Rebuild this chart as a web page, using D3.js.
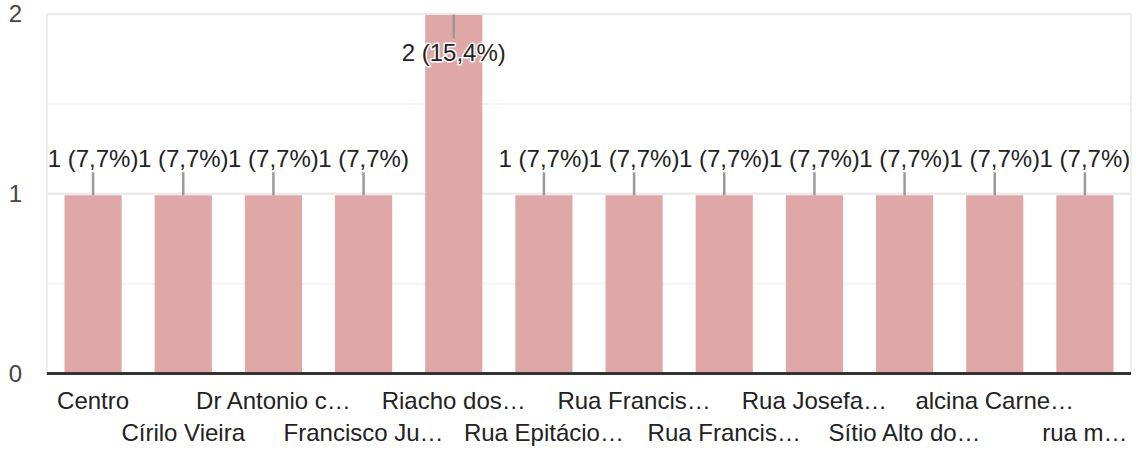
<!DOCTYPE html>
<html>
<head>
<meta charset="utf-8">
<script src="https://cdn.jsdelivr.net/npm/d3@7"></script>
<style>
  html, body { margin: 0; padding: 0; background: #fff; }
  svg { display: block; font-family: Arial, "Liberation Sans", sans-serif; }
</style>
</head>
<body>
<svg id="chart" width="1139" height="450"></svg>
<script>
const categories = ["Centro", "Círilo Vieira", "Dr Antonio c…", "Francisco Ju…", "Riacho dos…", "Rua Epitácio…", "Rua Francis…", "Rua Francis…", "Rua Josefa…", "Sítio Alto do…", "alcina Carne…", "rua m…"];
const values = [1, 1, 1, 1, 2, 1, 1, 1, 1, 1, 1, 1];
const valueLabels = ["1 (7,7%)", "1 (7,7%)", "1 (7,7%)", "1 (7,7%)", "2 (15,4%)", "1 (7,7%)", "1 (7,7%)", "1 (7,7%)", "1 (7,7%)", "1 (7,7%)", "1 (7,7%)", "1 (7,7%)"];
const yTicks = [0, 1, 2];
const yGrid = [0.5, 1, 1.5, 2];

(function () {
const svg = d3.select("#chart");
const plotLeft = 48, plotRight = 1130, plotTop = 14, plotBottom = 373.5;
const fs = 24;

const ids = categories.map((c, i) => i);
const x = d3.scaleBand().domain(ids).range([plotLeft, plotRight]).paddingInner(0.366).paddingOuter(0.183);
const y = d3.scaleLinear().domain([0, 2]).range([plotBottom, plotTop]);

// gridlines
svg.append("g").selectAll("line").data(yGrid).join("line")
  .attr("x1", plotLeft - 1).attr("x2", plotRight + 1)
  .attr("y1", d => y(d)).attr("y2", d => y(d))
  .attr("stroke", d => Number.isInteger(d) ? "#ebebeb" : "#f4f4f4")
  .attr("stroke-width", d => Number.isInteger(d) ? 2.5 : 2);

// side borders
svg.append("g").selectAll("line").data([plotLeft - 1, plotRight + 1]).join("line")
  .attr("x1", d => d).attr("x2", d => d)
  .attr("y1", plotTop).attr("y2", plotBottom)
  .attr("stroke", "#eeeeee").attr("stroke-width", 2);

// bars
svg.append("g").selectAll("rect").data(values).join("rect")
  .attr("x", (d, i) => x(i))
  .attr("width", x.bandwidth())
  .attr("y", d => y(d) + (d === 2 ? 1 : 1.5))
  .attr("height", d => plotBottom - y(d) - 1.5)
  .attr("fill", "#dfa8a7");

// baseline
svg.append("line")
  .attr("x1", plotLeft - 1).attr("x2", plotRight + 1)
  .attr("y1", y(0)).attr("y2", y(0))
  .attr("stroke", "#333").attr("stroke-width", 3);

// y tick labels
svg.append("g").selectAll("text").data(yTicks).join("text")
  .attr("x", 22).attr("y", d => y(d) + 8)
  .attr("text-anchor", "end")
  .attr("font-size", fs).attr("fill", "#444")
  .text(d => d);

// value leaders and labels
const leaderLen = 23;
const lab = svg.append("g");
values.forEach((v, i) => {
  const cx = x(i) + x.bandwidth() / 2;
  const yt = y(v) + 1.5;
  const inside = v === 2;
  const y2 = inside ? yt + leaderLen : yt - leaderLen;
  lab.append("line")
    .attr("x1", cx).attr("x2", cx).attr("y1", inside ? yt - 1 : yt).attr("y2", y2)
    .attr("stroke", "#999").attr("stroke-width", 2.5);
  const t = lab.append("text")
    .attr("x", cx)
    .attr("y", inside ? y2 + 22 : y2 - 5)
    .attr("text-anchor", "middle")
    .attr("font-size", fs).attr("fill", "#222")
    .text(valueLabels[i]);
  if (inside) {
    t.attr("stroke", "#fff").attr("stroke-width", 3).attr("paint-order", "stroke").attr("stroke-linejoin", "round");
  }
});

// x labels (two staggered rows)
svg.append("g").selectAll("text").data(categories).join("text")
  .attr("x", (d, i) => x(i) + x.bandwidth() / 2)
  .attr("y", (d, i) => i % 2 === 0 ? 409 : 441)
  .attr("text-anchor", "middle")
  .attr("font-size", fs).attr("fill", "#222")
  .text(d => d);
})();
</script>
</body>
</html>
